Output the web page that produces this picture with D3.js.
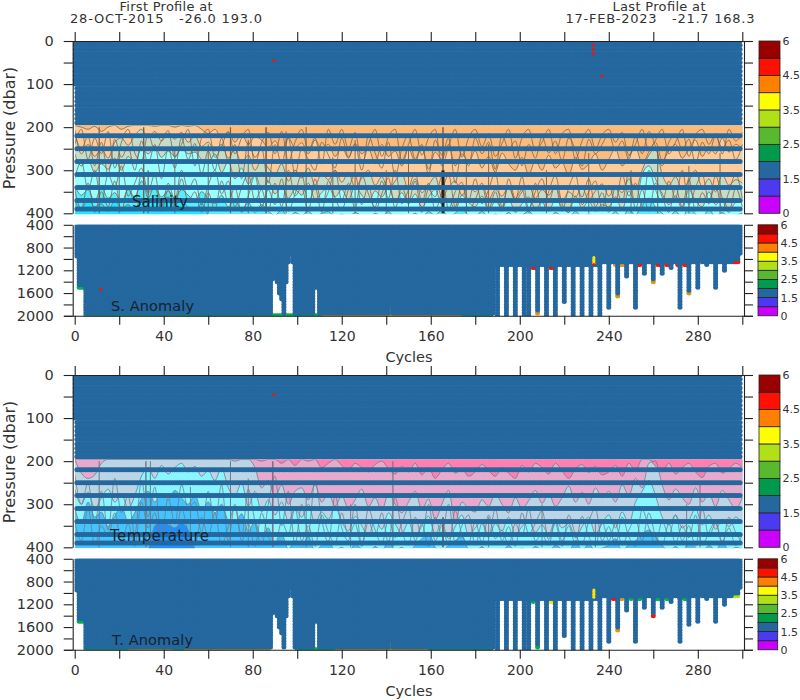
<!DOCTYPE html>
<html><head><meta charset="utf-8">
<script src="https://cdn.jsdelivr.net/npm/d3@7"></script>
<style>
html,body{margin:0;padding:0;background:#fff}
svg{display:block}
text{font-family:"DejaVu Sans",sans-serif;fill:#333;white-space:pre}
</style></head><body><svg id="c" width="800" height="700"></svg>
<script>
// ---------- axis values ----------
const cycleTicks=[0,20,40,60,80,100,120,140,160,180,200,220,240,260,280,300];
const cycleLabels=[0,40,80,120,160,200,240,280];
const upperTicks=[0,50,100,150,200,250,300,350,400];
const upperLabels=[0,100,200,300,400];
const lowerTicks=[400,600,800,1000,1200,1400,1600,1800,2000];
const lowerLabels=[400,800,1200,1600,2000];
// ---------- colour bar ----------
const barEdges=[0,1,1.5,2,2.5,3,3.5,4,4.5,5,6];
const barLabels=[0,1.5,2.5,3.5,4.5,6];
const barColors=["#cc00ff","#4b3af0","#24689f","#009a4c","#58b830","#b0e018","#ffff00","#ff8000","#ff1000","#990000"];
const GOOD="#24689f",GREEN="#00b050",ORANGE="#d89a10",RED="#ff1000",YELLOW="#ffe800",LIME="#b0e018";
// ---------- sampling levels ----------
const shallowLevels=[0,10,20,30,40,50,60,70,80,90,100,110,120,130,140,150,160,170,180,190];
const bandLevels=[220,250,280,310,340,370,390];
const deepLevels=[400,450,500,550,600,650,700,750,800,850,900,950,1000,1050,1100,1150,1200,1250,1300,1350,1400,1450,1500,1550,1600,1650,1700,1750,1800,1850,1900,1950,2000];
const lastCycle=299;
// ---------- deepest level per cycle ----------
const earlyCycles=[1,2,3,4];
const earlyDepths=[950,1450,1450,1450];
const gapCycles=[89,90,91,92,93,95,96,97,98,100,108,109,142];
const gapDepths=[1350,1150,1400,1600,1700,1400,1050,900,1050,1900,1500,1500,1800];
const columnCycles=[190,194,198,202,204,208,212,216,220,224,228,232,236,240,244,248,252,256,260,264,268,272,276,280,284,288,292];
const columnDepths=[2000,2000,2000,2000,2000,1900,2000,2000,1750,2000,2000,2000,2000,1850,1600,1300,1850,1250,1350,1250,1150,1850,1550,1500,1100,1500,1200];
const tailCycles=[281,296,297,298,299];
const tailDepths=[900,1000,1000,1000,900];
// ---------- flagged samples [cycle,pressure,colour] ----------
const salUpperFlags=[[89.5,45,RED],[233,0,RED],[233,10,RED],[233,20,RED],[233,30,RED],[237,81,RED]];
const tempUpperFlags=[[89.5,45,RED]];
const salDeepOver=[[11.7,1530,RED],[233.3,975,YELLOW],[233.3,1000,YELLOW],[233.3,1025,YELLOW],[233.3,1050,YELLOW],[233.3,1075,YELLOW],[233.3,1100,RED]];
const tempDeepOver=[[233.3,950,YELLOW],[233.3,975,YELLOW],[233.3,1000,YELLOW],[233.3,1025,YELLOW],[233.3,1050,YELLOW],[233.3,1075,YELLOW]];
const salTips=[[2,1500,GREEN],[3,1500,GREEN],[4,1500,GREEN],[206,1150,RED],[207,1150,RED],[214,1150,RED],[215,1150,RED],[243,1100,ORANGE],[245,1100,ORANGE],[246,1100,ORANGE],[247,1100,ORANGE],[253,1100,RED],[254,1100,RED],[262,1100,RED],[263,1100,RED],[266,1100,RED],[267,1100,RED],[271,1100,RED],[274,1100,RED],[275,1100,RED],[296,1050,RED],[297,1050,RED],[298,1050,RED],[208,1950,ORANGE],[244,1650,ORANGE],[260,1400,ORANGE],[276,1600,ORANGE]];
const tempTips=[[2,1500,GREEN],[3,1500,GREEN],[4,1500,GREEN],[206,1150,GREEN],[214,1150,YELLOW],[215,1150,YELLOW],[242,1100,RED],[243,1100,RED],[245,1100,ORANGE],[246,1100,ORANGE],[250,1100,GREEN],[253,1100,GREEN],[254,1100,GREEN],[261,1100,GREEN],[262,1100,GREEN],[263,1100,GREEN],[266,1100,GREEN],[267,1100,GREEN],[272,1100,GREEN],[274,1100,GREEN],[275,1100,GREEN],[296,1050,LIME],[297,1050,LIME],[298,1050,LIME],[208,1950,GREEN],[244,1650,ORANGE],[260,1400,RED]];
const salBottomRuns=[[5,70,GREEN],[70,112,GREEN],[112,150,ORANGE],[150,175,ORANGE],[175,188,GREEN]];
const tempBottomRuns=[[5,25,GREEN],[25,45,ORANGE],[45,50,GREEN],[50,88,ORANGE],[100,118,GREEN],[118,160,ORANGE],[160,188,GREEN]];
// ---------- isolines: pressure read every third cycle ----------
const contourStep=3;
const salC1=[196,200,205,198,210,200,196,205,198,196, 196,196,198,196,196,200,196,198,196,205, 215,205,225,212,235,215,240,222,230,248, 232,255,225,248,236,262,230,250,240,268, 245,272,238,262,250,285,240,268,255,290, 250,280,245,298,258,275,240,290,262,282, 255,295,268,305,260,285,300,270,310,278, 300,265,295,282,312,270,298,285,262,300, 275,250,290,268,245,285,258,235,278,255, 240,272,250,230,268,245,262,225,258,240, 250];
const salC2=[205,262,240,268,250,272,235,225,242,220, 205,225,210,232,215,228,212,235,220,245, 235,255,240,272,250,285,265,300,275,295, 310,285,325,300,318,295,335,308,322,300, 328,305,340,318,300,335,315,345,325,308, 345,320,352,335,315,362,340,325,358,338, 350,330,368,345,360,338,372,350,335,365, 345,358,335,372,350,362,340,368,348,332, 360,340,352,320,345,300,265,250,310,335, 315,345,325,300,340,320,350,310,335,322, 330];
const salC3=[262,290,275,305,285,298,272,300,268,285, 250,262,245,270,255,268,250,262,258,275, 285,262,305,280,320,295,332,308,345,325, 355,335,365,345,358,330,368,352,340,362, 345,368,338,358,375,348,362,340,372,352, 378,355,385,362,345,380,368,392,358,375, 385,360,395,372,388,365,398,378,362,390, 375,395,368,385,398,360,388,372,395,380, 385,362,392,348,375,310,290,320,355,380, 360,390,345,372,385,350,380,365,392,375, 370];
const salC4=[335,358,345,372,340,365,352,375,345,362, 325,352,340,362,348,365,345,358,372,350, 365,378,358,385,368,392,375,398,380,395, 405,392,410,398,405,395,410,400,396,408, 402,410,398,406,412,400,408,396,410,404, 410,400,412,396,405,392,410,400,388,405, 408,395,412,402,410,398,412,405,395,410, 405,412,398,408,412,395,410,402,412,405, 410,396,412,390,405,375,365,385,400,410, 395,412,385,402,410,392,408,398,412,405, 400];
const salC5=[372,390,365,385,378,395,370,388,380,392, 365,378,358,372,362,380,370,386,392,378, 405];
const salLine1=[215,250,222,290,235,310,228,270,245,300, 232,285,240,320,250,295,225,275,238,310, 255,300,225,280,240,320,235,270,250,330, 240,285,225,310,250,275,300,235,265,295, 225,270,240,300,220,260,295,235,315,250, 220,275,240,310,230,265,225,330,250,290, 225,262,235,298,218,250,232,290,240,272, 222,260,232,278,225,252,290,228,262,240, 215,255,232,275,222,262,210,245,290,235, 218,252,228,285,235,262,220,248,230,275, 240];
const salLine2=[320,280,345,300,375,310,340,290,360,330, 295,350,310,385,330,370,300,345,320,380, 335,300,355,325,385,340,310,370,345,395, 330,385,300,360,340,395,320,375,350,300, 370,330,390,310,355,385,325,365,300,378, 345,305,375,330,392,350,310,385,335,370, 320,378,345,305,385,335,370,315,390,350, 320,372,335,395,340,310,380,350,325,388, 335,375,310,360,330,385,300,345,375,325, 365,300,380,340,310,372,335,390,350,310, 365];
const salLine3=[345,390,330,398,350,385,325,395,340,375, 310,365,335,395,345,388,320,372,350,398, 352,392,325,375,340,398,360,312,385,345, 380,320,395,355,310,375,340,398,325,365, 392,345,310,380,335,395,355,318,388,340, 372,325,398,345,362,315,390,350,328,395, 368,335,392,350,395,320,365,345,398,330, 395,350,312,378,398,335,362,320,385,352, 398,340,375,305,388,345,395,330,362,398, 340,385,320,395,352,378,312,365,398,342, 385];
const salLine4=[240,205,275,225,262,210,295,235,205,260, 280,215,255,232,208,270,240,205,290,225, 205,270,245,210,262,225,205,285,235,212, 262,210,280,235,205,255,225,285,205,240, 205,250,212,285,240,205,268,222,205,278, 240,205,265,225,205,290,245,205,270,225, 205,245,215,268,238,205,272,225,205,255, 235,205,262,215,205,275,232,205,250,218, 205,235,212,265,240,205,255,230,205,262, 235,205,268,218,205,240,215,262,205,232, 212];
const tempC1=[196,196,196,196,196,196,196,196,196,196, 196,196,196,196,196,196,196,196,196,196, 196,196,196,196,196,196,196,196,200,196, 196,205,196,210,196,200,196,215,205,196, 210,222,205,215,225,208,200,218,230,212, 225,205,232,215,240,220,205,228,218,235, 225,208,222,235,215,228,240,210,225,205, 215,230,205,222,240,218,208,226,212,232, 225,210,235,205,222,196,196,212,225,205, 230,215,205,225,238,212,205,228,218,205, 215];
const tempC2=[196,228,240,232,205,196,196,196,196,196, 196,196,196,196,196,196,196,196,196,196, 196,196,196,196,200,196,196,215,262,245, 285,255,300,270,262,290,255,295,275,305, 280,310,290,265,305,285,315,275,300,320, 295,270,312,288,335,300,268,340,295,310, 318,290,305,275,300,320,285,310,292,268, 298,275,305,285,258,295,272,300,262,285, 270,295,255,280,240,262,205,200,255,290, 265,285,300,262,295,275,305,268,290,310, 285];
const tempC3=[265,300,272,310,285,265,295,275,310,280, 235,215,240,210,230,215,205,225,212,235, 222,245,215,262,280,250,305,270,318,290, 325,295,340,310,330,300,345,318,335,305, 340,362,328,350,375,335,358,320,345,368, 342,375,350,328,368,345,380,352,325,372, 355,340,375,345,362,330,370,352,338,365, 348,372,335,355,345,378,352,330,368,345, 325,355,318,345,295,270,245,280,330,348, 325,355,338,310,348,325,358,335,352,330, 345];
const tempC4=[310,345,295,330,318,352,328,305,340,320, 288,270,295,275,290,268,285,300,278,315, 295,320,300,338,345,322,362,340,378,355, 392,370,405,385,398,375,410,395,385,408, 400,412,392,405,415,398,410,385,408,400, 412,395,380,365,400,410,395,385,375,405, 410,398,415,405,412,395,410,402,412,398, 408,412,395,405,412,385,408,392,410,402, 395,380,410,392,385,370,360,375,395,410, 398,412,388,402,412,395,408,385,410,400, 405];
const tempC5=[405,405,405,405,405,405,405,405,405,405, 405,405,350,342,348,355,345,360,405];
const tempLine1=[230,300,250,345,270,360,240,320,280,370, 245,330,260,375,285,345,255,310,295,365, 270,345,255,385,300,375,265,340,395,300, 235,350,270,395,300,365,245,335,390,280, 355,385,300,395,340,375,320,390,285,360, 395,330,375,300,385,350,395,315,370,390, 340,390,325,380,360,395,345,375,310,385, 370,395,335,385,350,392,328,375,395,340, 385,345,395,360,335,385,320,375,395,345, 390,350,378,325,395,365,340,388,355,395, 370];
const tempLine2=[340,385,310,395,350,375,320,390,345,398, 295,355,320,388,340,378,310,365,395,330, 375,320,395,352,305,385,345,398,320,375, 395,340,370,310,385,350,398,325,365,392, 320,375,345,398,310,360,392,335,378,345, 310,385,345,398,330,372,300,390,350,325, 395,345,378,310,385,352,398,320,368,345, 315,382,345,398,325,370,392,340,310,385, 352,395,330,375,398,312,355,392,340,372, 325,385,350,398,310,375,345,392,330,365, 390];
// ---------- steep profiles where isolines bunch up [cycle,top,bottom,colour,width] ----------
const SB="#75604c",TG="#6f7a85";
const salSpikes=[[11,200,400,SB,1.2],[20,260,400,SB,.9],[31,200,400,SB,1.4],[33,300,400,SB,1.2],[45,250,400,SB,.9],[60,240,400,SB,.9],[70,200,400,SB,1.2],[78,230,400,SB,.9],[86,200,400,SB,1.6],[95,210,400,SB,.9],[104,200,400,SB,1],[116,270,400,SB,.9],[126,230,400,SB,.9],[140,300,400,SB,.9],[150,250,400,SB,.9],[165.5,200,300,"#6b5a48",1.4],[165.5,300,400,"#222222",3],[176,280,400,SB,.9],[186,240,400,SB,.9],[212,300,400,SB,.9],[231,260,400,SB,.9],[250,300,400,SB,.9],[262,250,400,SB,1],[276,290,400,SB,.9],[290,260,400,SB,.9]];
const tempSpikes=[[11,200,400,TG,1],[32,200,400,TG,1.4],[34,200,400,TG,1],[52,260,400,TG,.9],[70,200,400,TG,1],[78,240,400,TG,.9],[89,200,400,"#8a6a85",1.6],[104,280,400,TG,.9],[124,300,400,TG,.9],[143,200,400,TG,1.2],[165.5,330,400,"#707070",2],[186,330,400,TG,.9],[210,300,400,TG,.9],[234,340,400,TG,.9],[275,300,400,TG,.9],[281,250,400,"#8a6a85",1]];

const svg=d3.select("#c");
const x=d3.scaleLinear().domain([0,300]).range([74.7,742.3]);
const allCycles=d3.range(0,lastCycle+1);
const depthOf=new Map();
allCycles.forEach(c=>depthOf.set(c,c<189?2000:(c<236?1100:(c<296?1050:1000))));
[[earlyCycles,earlyDepths],[gapCycles,gapDepths],[columnCycles,columnDepths],[tailCycles,tailDepths]].forEach(([cs,ds])=>cs.forEach((c,i)=>depthOf.set(c,ds[i])));
depthOf.set(0,0);
const R=2.5;
let clipId=0;
function clip(g,x0,y0,w,h){const id="cp"+(clipId++);
  g.append("clipPath").attr("id",id).append("rect").attr("x",x0).attr("y",y0).attr("width",w).attr("height",h);
  return g.append("g").attr("clip-path",`url(#${id})`);}
function dots(g,data,y,color,r){
  g.append("g").selectAll("circle").data(data).join("circle")
   .attr("cx",d=>x(d[0])).attr("cy",d=>y(d[1])).attr("r",r).attr("fill",d=>d[2]||color);}
function styleAxis(a){a.selectAll("line,path").attr("stroke","#222").attr("stroke-width",1.1);
  a.selectAll("text").attr("fill","#333").style("font-size","14.5px");}
function colorBar(g,top,bottom,left,width,labelX){
  const idx=d3.scaleLinear().domain([0,barEdges.length-1]).range([bottom,top]);
  g.append("g").selectAll("rect").data(barColors).join("rect")
   .attr("x",left).attr("width",width)
   .attr("y",(d,i)=>idx(i+1)).attr("height",(d,i)=>idx(i)-idx(i+1))
   .attr("fill",d=>d).attr("stroke","#222").attr("stroke-width",0.8);
  g.append("g").selectAll("text").data(barLabels).join("text")
   .attr("x",labelX).attr("y",d=>idx(barEdges.indexOf(d))).attr("dy","0.36em")
   .style("font-size","11px").text(d=>d);
}
function panel(o){
  const g=svg.append("g");
  const yU=d3.scaleLinear().domain([0,400]).range([o.top,o.top+172.3]);
  const yL=d3.scaleLinear().domain([400,2000]).range([o.top+183.8,o.top+274.8]);
  // upper bands
  const bands=clip(g,75,yU(196),668.5,yU(402)-yU(196));
  bands.append("rect").attr("x",x(0)).attr("width",x(300)-x(0)).attr("y",yU(196)).attr("height",yU(402)-yU(196)).attr("fill",o.base);
  const xc=(d,i)=>x(i*contourStep);
  const curve=d3.curveMonotoneX;
  bands.append("path").datum(o.deep).attr("d",d3.area().curve(curve).x(xc).y0(yU(405)).y1(d=>yU(d))).attr("fill",o.deepColor);
  o.fills.slice().reverse().forEach(f=>{
    bands.append("path").datum(f.v).attr("d",d3.area().curve(curve).x(xc).y0(yU(190)).y1(d=>yU(d))).attr("fill",f.color);
  });
  o.fills.map(f=>f.v).concat([o.deep],o.lines).forEach(v=>{
    bands.append("path").datum(v).attr("d",d3.line().curve(curve).x(xc).y(d=>yU(d))).attr("fill","none").attr("stroke",o.lineColor).attr("stroke-width",0.95).attr("opacity",0.8);
  });
  bands.append("g").selectAll("line").data(o.spikes).join("line")
    .attr("x1",d=>x(d[0])).attr("x2",d=>x(d[0])).attr("y1",d=>yU(d[1])).attr("y2",d=>yU(d[2]))
    .attr("stroke",d=>d[3]).attr("stroke-width",d=>d[4]);
  // upper samples
  const upper=clip(g,72.7,o.top,671.3,yU(402)-o.top);
  const pts=[];
  allCycles.forEach(c=>{
    shallowLevels.forEach(p=>{if(c>0||p<=100)pts.push([c,p]);});
    if(c>0)bandLevels.forEach(p=>pts.push([c,p]));
  });
  dots(upper,pts,yU,GOOD,R);
  dots(upper,o.upperFlags,yU,RED,1.5);
  // deep samples
  const lower=clip(g,72.7,yL(400),671.3,yL(2000)-yL(400)+0.4);
  const under=[];
  o.bottomRuns.forEach(r=>d3.range(r[0],r[1]).forEach(c=>under.push([c,2000,r[2]])));
  dots(lower,under.concat(o.tips),yL,GOOD,R);
  const deep=[];
  allCycles.forEach(c=>deepLevels.forEach(p=>{
    if(c>0&&p<=depthOf.get(c)&&!(p===2000&&c<189))deep.push([c,p]);}));
  dots(lower,deep,yL,GOOD,R);
  dots(lower,o.deepOver,yL,RED,1.5);
  // axes
  const xTop=svg.append("g").attr("transform",`translate(0,${o.top})`)
    .call(d3.axisTop(x).tickValues(cycleTicks).tickSize(9).tickFormat(""));
  const xBot=svg.append("g").attr("transform",`translate(0,${yL(2000)})`)
    .call(d3.axisBottom(x).tickValues(cycleTicks).tickSize(9).tickPadding(6).tickFormat(d=>cycleLabels.includes(d)?d:""));
  [xTop,xBot].forEach(a=>{styleAxis(a);a.select(".domain").attr("d","M64,0.5H753");a.selectAll("text").style("font-size","14px");});
  [[yU,upperTicks,upperLabels],[yL,lowerTicks,lowerLabels]].forEach(([sc,t,lab])=>{
    const fmt=d=>lab.includes(d)?d:"";
    styleAxis(svg.append("g").attr("transform","translate(72.7,0)")
      .call(d3.axisLeft(sc).tickValues(t).tickSize(9).tickPadding(10).tickSizeOuter(0).tickFormat(fmt)));
    styleAxis(svg.append("g").attr("transform","translate(744,0)")
      .call(d3.axisRight(sc).tickValues(t).tickSize(9).tickSizeOuter(0).tickFormat("")));
  });
  // colour bars
  colorBar(g.append("g"),yU(0),yU(400),759,21,782.5);
  colorBar(g.append("g"),yL(400),yL(2000),758,19.7,780.5);
  // labels
  svg.append("text").attr("transform",`translate(15,${o.top+87}) rotate(-90)`).attr("text-anchor","middle").style("font-size","16px").text("Pressure (dbar)");
  svg.append("text").attr("x",o.t1x).attr("y",o.top+o.t1y).attr("dy","0.36em").style("font-size","15px").style("fill","#16222e").attr("textLength",o.t1w).text(o.title1);
  svg.append("text").attr("x",o.t2x).attr("y",o.top+o.t2y).attr("dy","0.36em").style("font-size","14.5px").style("fill","#16222e").attr("textLength",o.t2w).text(o.title2);
  svg.append("text").attr("x",409).attr("y",o.top+316).attr("dy","0.36em").attr("text-anchor","middle").style("font-size","14.5px").text("Cycles");
}
panel({top:41,base:"#55eeff",deep:salC5,deepColor:"#22e6ff",
  fills:[{v:salC1,color:"#fdbb7b"},{v:salC2,color:"#ffcc99"},{v:salC3,color:"#c6dcc4"},{v:salC4,color:"#99ffff"}],
  lines:[salLine1,salLine2,salLine3,salLine4],lineColor:"#75604c",spikes:salSpikes,
  upperFlags:salUpperFlags,deepOver:salDeepOver,tips:salTips,bottomRuns:salBottomRuns,
  title1:"Salinity",t1x:132,t1y:161,t1w:56,title2:"S. Anomaly",t2x:111,t2y:264.7,t2w:83});
panel({top:375,base:"#44c4ff",deep:tempC5,deepColor:"#1e90ff",
  fills:[{v:tempC1,color:"#ff80b0"},{v:tempC2,color:"#e8aacc"},{v:tempC3,color:"#bbd5e5"},{v:tempC4,color:"#88f5ff"}],
  lines:[tempLine1,tempLine2],lineColor:"#6f7a85",spikes:tempSpikes,
  upperFlags:tempUpperFlags,deepOver:tempDeepOver,tips:tempTips,bottomRuns:tempBottomRuns,
  title1:"Temperature",t1x:110,t1y:160.7,t1w:99,title2:"T. Anomaly",t2x:112,t2y:265,t2w:81});
// header
const header=[["First Profile at",166,6,93],["28-OCT-2015   -26.0 193.0",166,18.5,192],["Last Profile at",659,6,93],["17-FEB-2023   -21.7 168.3",660,18.5,189]];
svg.append("g").selectAll("text").data(header).join("text")
  .attr("x",d=>d[1]-d[3]/2).attr("y",d=>d[2]).attr("dy","0.36em").attr("textLength",d=>d[3]).style("font-size","13px").text(d=>d[0]);
</script></body></html>
